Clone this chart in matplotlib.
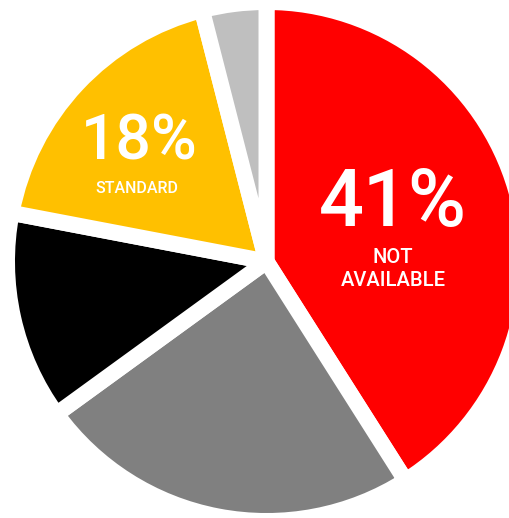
import matplotlib.pyplot as plt

# slices clockwise from 12 o'clock
labels = ['NOT AVAILABLE', 'OTHER A', 'OTHER B', 'STANDARD', 'OTHER C']
values = [41, 24, 13, 18, 4]
colors = ['#FF0000', '#808080', '#000000', '#FFC000', '#BFBFBF']

W, H = 510, 518
fig = plt.figure(figsize=(W / 100, H / 100), dpi=100)
fig.set_facecolor('white')
ax = fig.add_axes([0, 0, 1, 1])

cx, cy, r = 266.5, H - 261.5, 259.5
ax.pie(values, colors=colors, startangle=90, counterclock=False,
       center=(cx, cy), radius=r, frame=True,
       wedgeprops=dict(edgecolor='white', linewidth=11.5, joinstyle='round'))
ax.set_xlim(0, W)
ax.set_ylim(0, H)
ax.set_aspect('equal')
ax.axis('off')


def px(x, y):
    return x, H - y


big = dict(color='white', fontfamily='Roboto', fontweight='medium',
           ha='center', va='center')
small = dict(color='white', fontfamily='Roboto', fontweight='medium',
             ha='center', va='center')

ax.text(*px(392.5, 204), f'{values[0]}%', fontsize=57, **big)
ax.text(*px(393, 269), 'NOT\nAVAILABLE', fontsize=14.5, linespacing=1.25, **small)
ax.text(*px(139, 142.5), f'{values[3]}%', fontsize=45, **big)
ax.text(*px(137, 188), labels[3], fontsize=11.5, **small)

fig.savefig('out.png', dpi=100)
